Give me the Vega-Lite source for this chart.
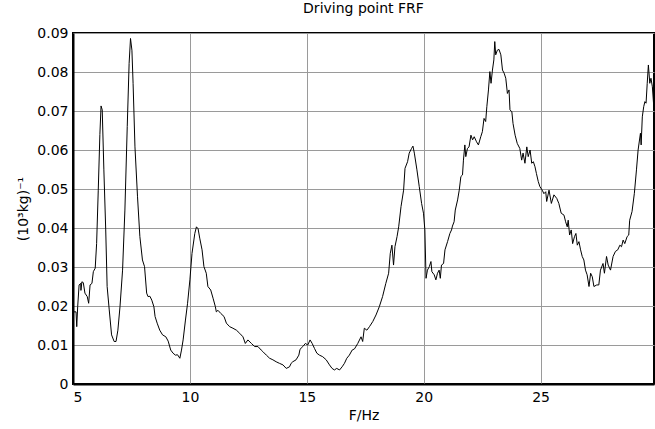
{
  "$schema": "https://vega.github.io/schema/vega-lite/v6.json",
  "width": 581,
  "height": 351,
  "autosize": {"type": "none"},
  "padding": {"left": 73, "top": 33, "right": 1, "bottom": 45},
  "background": "white",
  "config": {
    "font": "DejaVu Sans",
    "view": {"stroke": "black", "strokeWidth": 2},
    "axis": {
      "domainColor": "black",
      "domainWidth": 2,
      "gridColor": "#9a9a9a",
      "gridWidth": 1,
      "gridOpacity": 1,
      "ticks": false,
      "tickSize": 0,
      "labelFont": "DejaVu Sans",
      "labelFontSize": 14,
      "labelColor": "black",
      "titleFont": "DejaVu Sans",
      "titleFontSize": 14,
      "titleFontWeight": "normal",
      "titleColor": "black"
    },
    "title": {"font": "DejaVu Sans", "fontSize": 14, "fontWeight": "normal", "color": "black", "offset": 10}
  },
  "title": {"text": "Driving point FRF", "anchor": "middle"},
  "data": {
    "values": [
      {"f": 5.04, "a": 0.0185}, {"f": 5.13, "a": 0.0185}, {"f": 5.16, "a": 0.0147}, {"f": 5.2, "a": 0.0198},
      {"f": 5.26, "a": 0.0254}, {"f": 5.33, "a": 0.0258}, {"f": 5.34, "a": 0.024}, {"f": 5.38, "a": 0.0262},
      {"f": 5.44, "a": 0.026}, {"f": 5.51, "a": 0.0233}, {"f": 5.61, "a": 0.0224}, {"f": 5.67, "a": 0.0207},
      {"f": 5.73, "a": 0.0254}, {"f": 5.81, "a": 0.0258}, {"f": 5.87, "a": 0.0288}, {"f": 5.95, "a": 0.0297},
      {"f": 6.01, "a": 0.036}, {"f": 6.08, "a": 0.0497}, {"f": 6.15, "a": 0.064}, {"f": 6.2, "a": 0.0713},
      {"f": 6.25, "a": 0.0703}, {"f": 6.32, "a": 0.0549}, {"f": 6.4, "a": 0.0395}, {"f": 6.46, "a": 0.025},
      {"f": 6.55, "a": 0.019}, {"f": 6.65, "a": 0.0126}, {"f": 6.76, "a": 0.0109}, {"f": 6.84, "a": 0.0109},
      {"f": 6.92, "a": 0.0138}, {"f": 7.01, "a": 0.0198}, {"f": 7.12, "a": 0.0292}, {"f": 7.22, "a": 0.0446},
      {"f": 7.32, "a": 0.066}, {"f": 7.4, "a": 0.0822}, {"f": 7.46, "a": 0.0886}, {"f": 7.52, "a": 0.0856},
      {"f": 7.57, "a": 0.0771}, {"f": 7.65, "a": 0.0608}, {"f": 7.76, "a": 0.048}, {"f": 7.86, "a": 0.0378},
      {"f": 7.97, "a": 0.0318}, {"f": 8.06, "a": 0.0301}, {"f": 8.15, "a": 0.0233}, {"f": 8.21, "a": 0.0224},
      {"f": 8.29, "a": 0.0225}, {"f": 8.37, "a": 0.0215}, {"f": 8.46, "a": 0.0198}, {"f": 8.51, "a": 0.0173},
      {"f": 8.6, "a": 0.0156}, {"f": 8.71, "a": 0.0138}, {"f": 8.83, "a": 0.0126}, {"f": 8.97, "a": 0.0121},
      {"f": 9.07, "a": 0.011}, {"f": 9.18, "a": 0.0087}, {"f": 9.28, "a": 0.0079}, {"f": 9.38, "a": 0.0074},
      {"f": 9.47, "a": 0.0075}, {"f": 9.57, "a": 0.0066}, {"f": 9.64, "a": 0.0087}, {"f": 9.71, "a": 0.0113},
      {"f": 9.81, "a": 0.0164}, {"f": 9.9, "a": 0.0207}, {"f": 10.0, "a": 0.0267}, {"f": 10.09, "a": 0.0335},
      {"f": 10.21, "a": 0.0386}, {"f": 10.28, "a": 0.0403}, {"f": 10.35, "a": 0.0398}, {"f": 10.42, "a": 0.0374},
      {"f": 10.52, "a": 0.0344}, {"f": 10.6, "a": 0.0301}, {"f": 10.7, "a": 0.0284}, {"f": 10.77, "a": 0.025},
      {"f": 10.89, "a": 0.0241}, {"f": 10.99, "a": 0.022}, {"f": 11.09, "a": 0.0198}, {"f": 11.13, "a": 0.0185},
      {"f": 11.2, "a": 0.0189}, {"f": 11.32, "a": 0.0181}, {"f": 11.46, "a": 0.0173}, {"f": 11.56, "a": 0.0156},
      {"f": 11.7, "a": 0.0147}, {"f": 11.84, "a": 0.0143}, {"f": 11.99, "a": 0.0138}, {"f": 12.13, "a": 0.013},
      {"f": 12.27, "a": 0.0121}, {"f": 12.37, "a": 0.0104}, {"f": 12.48, "a": 0.0113}, {"f": 12.63, "a": 0.0104},
      {"f": 12.77, "a": 0.0096}, {"f": 12.91, "a": 0.0096}, {"f": 13.05, "a": 0.0087}, {"f": 13.12, "a": 0.0083},
      {"f": 13.27, "a": 0.0074}, {"f": 13.41, "a": 0.0066}, {"f": 13.55, "a": 0.0062}, {"f": 13.69, "a": 0.0057},
      {"f": 13.83, "a": 0.0053}, {"f": 13.98, "a": 0.0049}, {"f": 14.12, "a": 0.004}, {"f": 14.26, "a": 0.0044},
      {"f": 14.33, "a": 0.0053}, {"f": 14.4, "a": 0.0057}, {"f": 14.54, "a": 0.0062}, {"f": 14.66, "a": 0.0074},
      {"f": 14.71, "a": 0.0089}, {"f": 14.83, "a": 0.0096}, {"f": 14.94, "a": 0.0104}, {"f": 15.04, "a": 0.01},
      {"f": 15.14, "a": 0.0113}, {"f": 15.23, "a": 0.0104}, {"f": 15.33, "a": 0.0091}, {"f": 15.43, "a": 0.0079},
      {"f": 15.54, "a": 0.0074}, {"f": 15.68, "a": 0.007}, {"f": 15.83, "a": 0.0062}, {"f": 15.97, "a": 0.0049},
      {"f": 16.08, "a": 0.004}, {"f": 16.18, "a": 0.0036}, {"f": 16.28, "a": 0.004}, {"f": 16.4, "a": 0.0036},
      {"f": 16.51, "a": 0.0044}, {"f": 16.61, "a": 0.0053}, {"f": 16.71, "a": 0.0066}, {"f": 16.82, "a": 0.0074},
      {"f": 16.94, "a": 0.0087}, {"f": 17.04, "a": 0.009}, {"f": 17.18, "a": 0.0104}, {"f": 17.32, "a": 0.0121},
      {"f": 17.39, "a": 0.0109}, {"f": 17.46, "a": 0.0143}, {"f": 17.57, "a": 0.0138}, {"f": 17.68, "a": 0.0147},
      {"f": 17.82, "a": 0.016}, {"f": 17.96, "a": 0.0177}, {"f": 18.1, "a": 0.0198}, {"f": 18.24, "a": 0.0224},
      {"f": 18.38, "a": 0.0258}, {"f": 18.5, "a": 0.0284}, {"f": 18.57, "a": 0.0335}, {"f": 18.64, "a": 0.0356},
      {"f": 18.71, "a": 0.0305}, {"f": 18.77, "a": 0.0352}, {"f": 18.86, "a": 0.0378}, {"f": 18.93, "a": 0.0403},
      {"f": 19.03, "a": 0.0455}, {"f": 19.14, "a": 0.0497}, {"f": 19.2, "a": 0.0553}, {"f": 19.31, "a": 0.057},
      {"f": 19.38, "a": 0.0592}, {"f": 19.48, "a": 0.0604}, {"f": 19.54, "a": 0.061}, {"f": 19.6, "a": 0.0592},
      {"f": 19.71, "a": 0.0549}, {"f": 19.81, "a": 0.0506}, {"f": 19.91, "a": 0.0463}, {"f": 19.99, "a": 0.0438},
      {"f": 20.05, "a": 0.0395}, {"f": 20.1, "a": 0.0271}, {"f": 20.16, "a": 0.0292}, {"f": 20.24, "a": 0.0301},
      {"f": 20.31, "a": 0.0314}, {"f": 20.35, "a": 0.0288}, {"f": 20.45, "a": 0.028}, {"f": 20.52, "a": 0.0267},
      {"f": 20.59, "a": 0.0284}, {"f": 20.66, "a": 0.0292}, {"f": 20.71, "a": 0.0271}, {"f": 20.76, "a": 0.0305},
      {"f": 20.85, "a": 0.0309}, {"f": 20.91, "a": 0.0344}, {"f": 21.02, "a": 0.0365}, {"f": 21.12, "a": 0.0386},
      {"f": 21.19, "a": 0.0395}, {"f": 21.23, "a": 0.0405}, {"f": 21.3, "a": 0.0416}, {"f": 21.35, "a": 0.0446},
      {"f": 21.45, "a": 0.0472}, {"f": 21.52, "a": 0.0497}, {"f": 21.59, "a": 0.0532}, {"f": 21.66, "a": 0.0536},
      {"f": 21.7, "a": 0.0574}, {"f": 21.76, "a": 0.0613}, {"f": 21.8, "a": 0.0583}, {"f": 21.87, "a": 0.0604},
      {"f": 21.94, "a": 0.0608}, {"f": 22.02, "a": 0.0638}, {"f": 22.09, "a": 0.0626}, {"f": 22.16, "a": 0.0634},
      {"f": 22.26, "a": 0.0621}, {"f": 22.34, "a": 0.0613}, {"f": 22.44, "a": 0.0634}, {"f": 22.51, "a": 0.0647},
      {"f": 22.58, "a": 0.0681}, {"f": 22.65, "a": 0.0673}, {"f": 22.7, "a": 0.0711}, {"f": 22.77, "a": 0.0754},
      {"f": 22.83, "a": 0.0801}, {"f": 22.88, "a": 0.0771}, {"f": 22.94, "a": 0.0805}, {"f": 23.0, "a": 0.0831},
      {"f": 23.04, "a": 0.0878}, {"f": 23.08, "a": 0.0844}, {"f": 23.15, "a": 0.0856}, {"f": 23.22, "a": 0.0858},
      {"f": 23.3, "a": 0.0844}, {"f": 23.37, "a": 0.0805}, {"f": 23.44, "a": 0.0797}, {"f": 23.51, "a": 0.0784},
      {"f": 23.58, "a": 0.0745}, {"f": 23.65, "a": 0.0754}, {"f": 23.69, "a": 0.0703}, {"f": 23.77, "a": 0.0698},
      {"f": 23.82, "a": 0.0668}, {"f": 23.91, "a": 0.0638}, {"f": 24.0, "a": 0.0617}, {"f": 24.11, "a": 0.0604},
      {"f": 24.19, "a": 0.0574}, {"f": 24.25, "a": 0.0592}, {"f": 24.33, "a": 0.0566}, {"f": 24.41, "a": 0.0608},
      {"f": 24.47, "a": 0.0583}, {"f": 24.55, "a": 0.06}, {"f": 24.62, "a": 0.0566}, {"f": 24.69, "a": 0.057},
      {"f": 24.76, "a": 0.0557}, {"f": 24.82, "a": 0.054}, {"f": 24.9, "a": 0.0519}, {"f": 24.97, "a": 0.0506},
      {"f": 25.07, "a": 0.0497}, {"f": 25.14, "a": 0.0488}, {"f": 25.22, "a": 0.0493}, {"f": 25.26, "a": 0.0468},
      {"f": 25.36, "a": 0.0497}, {"f": 25.46, "a": 0.0463}, {"f": 25.57, "a": 0.0485}, {"f": 25.69, "a": 0.0476},
      {"f": 25.78, "a": 0.0463}, {"f": 25.88, "a": 0.0438}, {"f": 26.0, "a": 0.0433}, {"f": 26.07, "a": 0.0416},
      {"f": 26.14, "a": 0.0403}, {"f": 26.18, "a": 0.042}, {"f": 26.24, "a": 0.0382}, {"f": 26.31, "a": 0.0395},
      {"f": 26.37, "a": 0.036}, {"f": 26.45, "a": 0.0378}, {"f": 26.51, "a": 0.0386}, {"f": 26.57, "a": 0.0356},
      {"f": 26.64, "a": 0.0365}, {"f": 26.71, "a": 0.0344}, {"f": 26.78, "a": 0.0327}, {"f": 26.85, "a": 0.0318},
      {"f": 26.92, "a": 0.0292}, {"f": 26.99, "a": 0.028}, {"f": 27.07, "a": 0.025}, {"f": 27.14, "a": 0.0284},
      {"f": 27.21, "a": 0.0275}, {"f": 27.28, "a": 0.025}, {"f": 27.4, "a": 0.0254}, {"f": 27.49, "a": 0.0254},
      {"f": 27.56, "a": 0.0292}, {"f": 27.67, "a": 0.0309}, {"f": 27.73, "a": 0.0284}, {"f": 27.82, "a": 0.0327},
      {"f": 27.89, "a": 0.0305}, {"f": 27.99, "a": 0.0292}, {"f": 28.1, "a": 0.0327}, {"f": 28.2, "a": 0.034},
      {"f": 28.3, "a": 0.0344}, {"f": 28.39, "a": 0.0356}, {"f": 28.46, "a": 0.0352}, {"f": 28.53, "a": 0.0369},
      {"f": 28.6, "a": 0.036}, {"f": 28.7, "a": 0.0378}, {"f": 28.77, "a": 0.0382}, {"f": 28.81, "a": 0.042},
      {"f": 28.91, "a": 0.0442}, {"f": 29.01, "a": 0.0489}, {"f": 29.1, "a": 0.0549}, {"f": 29.17, "a": 0.06},
      {"f": 29.27, "a": 0.0643}, {"f": 29.3, "a": 0.0613}, {"f": 29.35, "a": 0.0685}, {"f": 29.41, "a": 0.0711},
      {"f": 29.46, "a": 0.0724}, {"f": 29.51, "a": 0.072}, {"f": 29.56, "a": 0.0771}, {"f": 29.61, "a": 0.0818},
      {"f": 29.67, "a": 0.0771}, {"f": 29.72, "a": 0.0784}, {"f": 29.78, "a": 0.0762}, {"f": 29.84, "a": 0.0711}
    ]
  },
  "mark": {"type": "line", "color": "black", "strokeWidth": 1, "clip": true},
  "encoding": {
    "x": {
      "field": "f",
      "type": "quantitative",
      "scale": {"domain": [5, 29.85], "nice": false, "zero": false},
      "axis": {"values": [5, 10, 15, 20, 25], "title": "F/Hz", "labelPadding": 6, "titlePadding": 4, "grid": true}
    },
    "y": {
      "field": "a",
      "type": "quantitative",
      "scale": {"domain": [0, 0.09], "nice": false},
      "axis": {
        "values": [0, 0.01, 0.02, 0.03, 0.04, 0.05, 0.06, 0.07, 0.08, 0.09],
        "labelExpr": "datum.value == 0 ? '0' : format(datum.value, '.2f')",
        "title": "(10³kg)⁻¹",
        "labelPadding": 5,
        "titlePadding": 6,
        "grid": true
      }
    }
  }
}
